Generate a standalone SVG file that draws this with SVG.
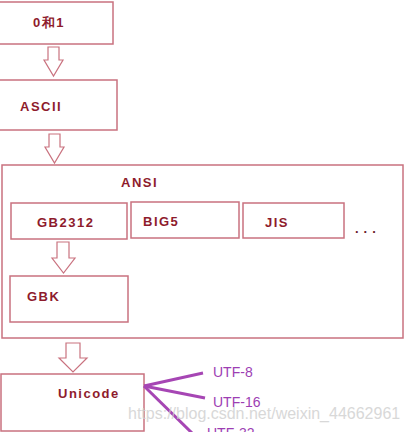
<svg xmlns="http://www.w3.org/2000/svg" width="405" height="432" viewBox="0 0 405 432">
<style>
.box{fill:#fff;stroke:#c9727f;stroke-width:1.5}
.lbl{font-family:"Liberation Sans",Arial,sans-serif;font-weight:bold;font-size:13px;fill:#8e1b2c;letter-spacing:1.5px}
.arr{fill:#fff;stroke:#c9727f;stroke-width:1.2}
.utf{font-family:"Liberation Sans",Arial,sans-serif;font-size:14px;fill:#9d3eb3}
.ln{stroke:#a646b4;stroke-width:3;fill:none}
</style>
<rect width="405" height="432" fill="#fff"/>
<g id="n01"><rect class="box" x="-5" y="2" width="118" height="42"/><text class="lbl" x="33" y="27">0和1</text></g>
<g id="ascii"><rect class="box" x="-5" y="80" width="122" height="50"/><text class="lbl" x="20" y="111">ASCII</text></g>
<g id="ansi"><rect class="box" x="2" y="165" width="401" height="173"/><text class="lbl" x="121" y="187">ANSI</text></g>
<g id="gb2312"><rect class="box" x="11" y="203" width="116" height="36"/><text class="lbl" x="37" y="227">GB2312</text></g>
<g id="big5"><rect class="box" x="131" y="202" width="108" height="36"/><text class="lbl" x="143" y="226">BIG5</text></g>
<g id="jis"><rect class="box" x="243" y="203" width="101" height="35"/><text class="lbl" x="265" y="227">JIS</text></g>
<g id="more"><text class="lbl" x="355" y="233" style="letter-spacing:5px;fill:#6a1a2a">...</text></g>
<g id="gbk"><rect class="box" x="10" y="276" width="118" height="46"/><text class="lbl" x="27" y="301">GBK</text></g>
<g id="unicode"><rect class="box" x="1" y="374" width="143" height="57"/><text class="lbl" x="58" y="398">Unicode</text></g>
<g id="utf8"><text class="utf" x="213" y="377">UTF-8</text></g>
<g id="utf16"><text class="utf" x="213" y="407">UTF-16</text></g>
<g id="utf32"><text class="utf" x="207" y="438">UTF-32</text></g>
<g id="connectors">
<path class="arr" d="M48,47 H59 V60 H63 L53.5,76 L44,60 H48 Z"/>
<path class="arr" d="M49,134 H60 V147 H64 L54.5,163 L45,147 H49 Z"/>
<path class="arr" d="M57,242 H69 V258 H75 L63.5,273 L52,258 H57 Z"/>
<path class="arr" d="M66,343 H80 V358 H87 L73,372 L59,358 H66 Z"/>
<path class="ln" d="M144,386 L203,373"/>
<path class="ln" d="M144,386 L205,398"/>
<path class="ln" d="M144,386 L193,434"/>
</g>
<text x="128" y="419" style="font-family:'Liberation Sans',Arial,sans-serif;font-size:16px;fill:#cfcfcf;opacity:0.8">https://blog.csdn.net/weixin_44662961</text>
</svg>
